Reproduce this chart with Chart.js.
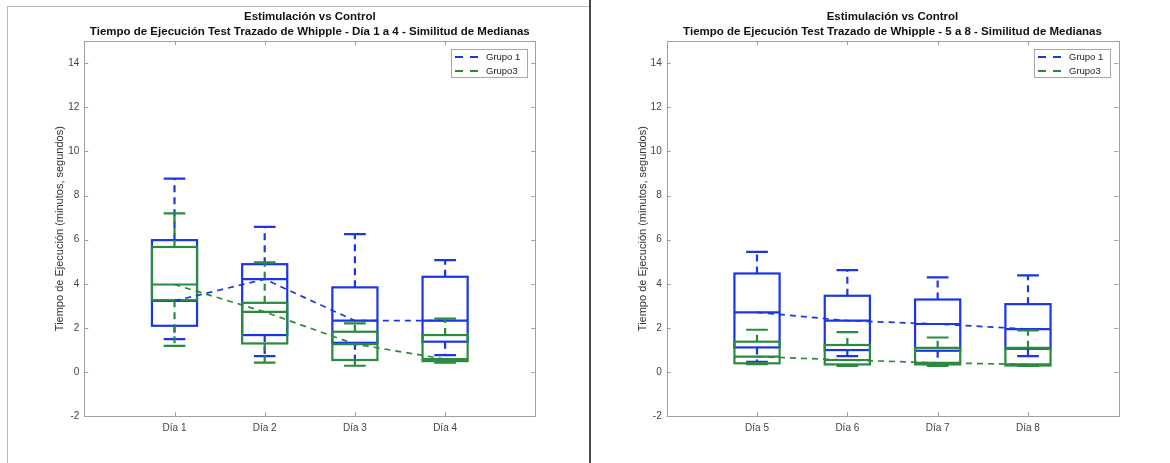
<!DOCTYPE html>
<html lang="es">
<head>
<meta charset="utf-8">
<title>Estimulación vs Control</title>
<script src="https://cdn.jsdelivr.net/npm/chart.js@4.4.0/dist/chart.umd.min.js"></script>
<style>
  body { margin: 0; background: #fff; }
  #wrap { position: relative; width: 1170px; height: 463px; overflow: hidden; }
  canvas { position: absolute; top: 0; }
  #c1 { left: 0; }
  #c2 { left: 590px; }
  #marco { position: absolute; left: 7px; top: 6px; width: 583px; height: 470px; border-left: 1px solid #b8b8b8; border-top: 1px solid #b8b8b8; }
  #sep { position: absolute; left: 589px; top: 0; width: 2px; height: 463px; background: #4a4a4a; }
</style>
</head>
<body>
<div id="wrap">
  <div id="marco"></div>
  <canvas id="c1" width="590" height="463"></canvas>
  <canvas id="c2" width="580" height="463"></canvas>
  <div id="sep"></div>
</div>
<script>
// --- Datos (minutos) ---
const dias = ['Día 1', 'Día 2', 'Día 3', 'Día 4', 'Día 5', 'Día 6', 'Día 7', 'Día 8'];
const yTicks = [-2, 0, 2, 4, 6, 8, 10, 12, 14];
const grupos = ['Grupo 1', 'Grupo3'];

// Grupo 1
const g1Min = [1.50, 0.73, 0.55, 0.77, 0.47, 0.73, 0.40, 0.73];
const g1Q1  = [2.10, 1.68, 1.33, 1.38, 1.12, 1.00, 0.97, 1.06];
const g1Med = [3.23, 4.21, 2.33, 2.33, 2.71, 2.33, 2.18, 1.95];
const g1Q3  = [5.98, 4.89, 3.84, 4.32, 4.47, 3.46, 3.29, 3.08];
const g1Max = [8.77, 6.58, 6.25, 5.07, 5.45, 4.62, 4.29, 4.38];

// Grupo 3
const g3Min = [1.19, 0.43, 0.29, 0.43, 0.36, 0.28, 0.28, 0.28];
const g3Q1  = [3.26, 1.30, 0.55, 0.50, 0.40, 0.35, 0.35, 0.30];
const g3Med = [3.97, 2.73, 1.27, 0.59, 0.70, 0.55, 0.42, 0.35];
const g3Q3  = [5.67, 3.14, 1.83, 1.68, 1.38, 1.23, 1.10, 1.10];
const g3Max = [7.19, 4.97, 2.21, 2.42, 1.92, 1.81, 1.57, 1.89];

const AZUL = '#1c36e4';
const VERDE = '#2b8a3e';
const MARCO = '#a0a0a0';

Chart.defaults.font.family = "'Liberation Sans', Arial, sans-serif";
Chart.defaults.animation = false;

// --- Cajas, marco, leyenda y títulos ---
const cajasPlugin = {
    id: 'cajas',
    beforeDatasetsDraw(chart, args, o) {
        const ctx = chart.ctx, xs = chart.scales.x, ys = chart.scales.y;
        const series = [
            { c: AZUL, min: g1Min, q1: g1Q1, med: g1Med, q3: g1Q3, max: g1Max },
            { c: VERDE, min: g3Min, q1: g3Q1, med: g3Med, q3: g3Q3, max: g3Max }
        ];
        ctx.save();
        series.forEach(s => {
            ctx.strokeStyle = s.c;
            ctx.lineWidth = 2.2;
            for (let i = 0; i < 4; i++) {
                const k = o.inicio + i;
                const cx = xs.getPixelForValue(i + 1);
                const hw = xs.getPixelForValue(i + 1.25) - cx;
                const cw = xs.getPixelForValue(i + 1.12) - cx;
                const yMin = ys.getPixelForValue(s.min[k]), yQ1 = ys.getPixelForValue(s.q1[k]);
                const yMed = ys.getPixelForValue(s.med[k]), yQ3 = ys.getPixelForValue(s.q3[k]);
                const yMax = ys.getPixelForValue(s.max[k]);
                // bigotes
                ctx.setLineDash([7, 5]);
                ctx.beginPath();
                ctx.moveTo(cx, yQ3); ctx.lineTo(cx, yMax);
                ctx.moveTo(cx, yQ1); ctx.lineTo(cx, yMin);
                ctx.stroke();
                ctx.setLineDash([]);
                ctx.beginPath();
                ctx.moveTo(cx - cw, yMax); ctx.lineTo(cx + cw, yMax);
                ctx.moveTo(cx - cw, yMin); ctx.lineTo(cx + cw, yMin);
                ctx.stroke();
                // caja y mediana
                ctx.strokeRect(cx - hw, yQ3, 2 * hw, yQ1 - yQ3);
                ctx.beginPath();
                ctx.moveTo(cx - hw, yMed); ctx.lineTo(cx + hw, yMed);
                ctx.stroke();
            }
        });
        ctx.restore();
    },
    afterDraw(chart, args, o) {
        const ctx = chart.ctx, a = chart.chartArea, xs = chart.scales.x, ys = chart.scales.y;
        ctx.save();
        // marco y marcas hacia dentro
        ctx.strokeStyle = MARCO;
        ctx.lineWidth = 1;
        ctx.strokeRect(Math.round(a.left) + 0.5, Math.round(a.top) + 0.5, Math.round(a.right - a.left), Math.round(a.bottom - a.top));
        ctx.beginPath();
        [1, 2, 3, 4].forEach(v => {
            const x = Math.round(xs.getPixelForValue(v)) + 0.5;
            ctx.moveTo(x, a.bottom); ctx.lineTo(x, a.bottom - 4);
            ctx.moveTo(x, a.top); ctx.lineTo(x, a.top + 4);
        });
        yTicks.forEach(v => {
            const y = Math.round(ys.getPixelForValue(v)) + 0.5;
            ctx.moveTo(a.left, y); ctx.lineTo(a.left + 4, y);
            ctx.moveTo(a.right, y); ctx.lineTo(a.right - 4, y);
        });
        ctx.stroke();

        // títulos
        const cx = (a.left + a.right) / 2;
        ctx.fillStyle = '#111';
        ctx.textAlign = 'center';
        ctx.textBaseline = 'middle';
        ctx.font = "bold 11.5px 'Liberation Sans', Arial, sans-serif";
        ctx.fillText('Estimulación vs Control', cx, 17);
        ctx.fillText(o.titulo, cx, 32);

        // título eje y
        ctx.save();
        ctx.translate(a.left - 24, (a.top + a.bottom) / 2);
        ctx.rotate(-Math.PI / 2);
        ctx.fillStyle = '#333';
        ctx.font = "11px 'Liberation Sans', Arial, sans-serif";
        ctx.fillText('Tiempo de Ejecución (minutos, segundos)', 0, 0);
        ctx.restore();

        // leyenda
        const lx = Math.round(a.right) - 84, ly = Math.round(a.top) + 8;
        ctx.fillStyle = '#fff';
        ctx.fillRect(lx, ly, 76, 28);
        ctx.strokeStyle = '#a8a8a8';
        ctx.strokeRect(lx + 0.5, ly + 0.5, 76, 28);
        [AZUL, VERDE].forEach((c, i) => {
            const y = ly + 8 + i * 14;
            ctx.strokeStyle = c;
            ctx.lineWidth = 2;
            ctx.setLineDash([8, 7]);
            ctx.beginPath();
            ctx.moveTo(lx + 4, y); ctx.lineTo(lx + 27, y);
            ctx.stroke();
            ctx.setLineDash([]);
            ctx.fillStyle = '#222';
            ctx.textAlign = 'left';
            ctx.font = "9.5px 'Liberation Sans', Arial, sans-serif";
            ctx.fillText(grupos[i], lx + 35, y);
        });
        ctx.restore();
    }
};

function crearGrafico(id, inicio, titulo, anchoY, padDer) {
    const etiquetas = dias.slice(inicio, inicio + 4);
    const puntos = med => med.slice(inicio, inicio + 4).map((m, i) => ({ x: i + 1, y: m }));
    return new Chart(document.getElementById(id), {
        type: 'line',
        data: {
            datasets: [
                { label: grupos[0], data: puntos(g1Med), borderColor: AZUL, borderWidth: 1.7, borderDash: [6, 5], pointRadius: 0, fill: false },
                { label: grupos[1], data: puntos(g3Med), borderColor: VERDE, borderWidth: 1.7, borderDash: [6, 5], pointRadius: 0, fill: false }
            ]
        },
        options: {
            responsive: false,
            layout: { padding: { left: 0, right: padDer, top: 41, bottom: 0 } },
            plugins: { legend: { display: false }, tooltip: { enabled: false }, cajas: { inicio, titulo } },
            scales: {
                x: {
                    type: 'linear', min: 0, max: 5,
                    afterBuildTicks: s => { s.ticks = [1, 2, 3, 4].map(v => ({ value: v })); },
                    afterFit: s => { s.height = 46.7; },
                    ticks: { color: '#444', font: { size: 10 }, padding: 6, maxRotation: 0, autoSkip: false, callback: v => etiquetas[v - 1] || '' },
                    grid: { display: false, drawTicks: false },
                    border: { display: false }
                },
                y: {
                    min: -2, max: 15,
                    afterBuildTicks: s => { s.ticks = yTicks.map(v => ({ value: v })); },
                    afterFit: s => { s.width = anchoY; },
                    ticks: { color: '#444', font: { size: 10 }, padding: 5 },
                    grid: { display: false, drawTicks: false },
                    border: { display: false }
                }
            }
        },
        plugins: [cajasPlugin]
    });
}

crearGrafico('c1', 0, 'Tiempo de Ejecución Test Trazado de Whipple - Día 1 a 4 - Similitud de Medianas', 84.3, 54.7);
crearGrafico('c2', 4, 'Tiempo de Ejecución Test Trazado de Whipple - 5 a 8 - Similitud de Medianas', 76.7, 51.7);
</script>
</body>
</html>
